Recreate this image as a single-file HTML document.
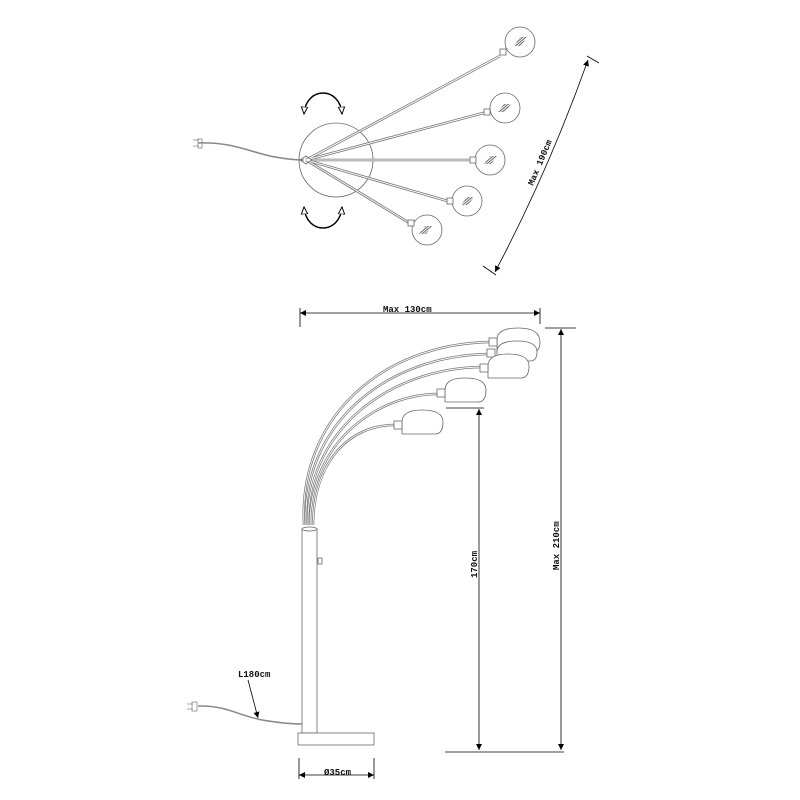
<!DOCTYPE html>
<html><head><meta charset="utf-8"><style>
html,body{margin:0;padding:0;background:#fff;width:800px;height:800px;overflow:hidden}
text{font-family:"Liberation Mono",monospace;font-size:9px;font-weight:bold;fill:#111}
</style></head><body>
<svg width="800" height="800" viewBox="0 0 800 800" xmlns="http://www.w3.org/2000/svg">
<defs>
<marker id="ar" viewBox="0 0 10 10" refX="10" refY="5" markerWidth="10" markerHeight="6" orient="auto-start-reverse" markerUnits="userSpaceOnUse"><path d="M0,0L10,5L0,10z" fill="#000"/></marker>
<marker id="oa" viewBox="0 0 10 10" refX="9" refY="5" markerWidth="8" markerHeight="8" orient="auto-start-reverse" markerUnits="userSpaceOnUse"><path d="M0,1L9,5L0,9z" fill="#fff" stroke="#000" stroke-width="1.2"/></marker>
<pattern id="hat" width="2" height="2" patternUnits="userSpaceOnUse" patternTransform="rotate(-40)"><rect width="2" height="1" fill="#666"/></pattern>
</defs>
<g fill="none" stroke="#666" stroke-width="0.8">
<circle cx="336" cy="160" r="37"/>
<path d="M198,143 C230,142 245,150 270,156 C285,159 295,160 304,160" stroke="#888" stroke-width="1.5"/>
<path d="M193,140h6M193,146h6" stroke="#888"/>
<rect x="198" y="139" width="4" height="9" stroke="#888"/>
<g stroke="#777" stroke-width="2.6"><path d="M306,160L500,56"/><path d="M306,160L487,112"/><path d="M306,160L474,160"/><path d="M306,160L451,202"/><path d="M306,160L411,224"/></g>
<g stroke="#fff" stroke-width="1"><path d="M306,160L500,56"/><path d="M306,160L487,112"/><path d="M306,160L474,160"/><path d="M306,160L451,202"/><path d="M306,160L411,224"/></g>
<path d="M300,160l6,-4l6,4l-6,4z"/>
<g fill="#fff">
<circle cx="520" cy="42" r="15"/><rect x="500" y="49" width="6" height="6"/>
<circle cx="505" cy="108" r="15"/><rect x="484" y="109" width="6" height="6"/>
<circle cx="490" cy="160" r="15"/><rect x="470" y="157" width="6" height="6"/>
<circle cx="467" cy="201" r="15"/><rect x="447" y="198" width="6" height="6"/>
<circle cx="427" cy="230" r="15"/><rect x="408" y="220" width="6" height="6"/>
</g>
<g fill="url(#hat)" stroke="none">
<path d="M514,46l6,-9l7,0l-6,9z"/><path d="M498,112l6,-8l7,0l-6,8z"/><path d="M484,164l6,-8l7,0l-6,8z"/><path d="M461,205l6,-8l7,0l-6,8z"/><path d="M419,234l6,-8l7,0l-6,8z"/>
</g>
<path d="M304,114 C306,86 340,86 342,114" stroke="#000" stroke-width="1.5" marker-start="url(#oa)" marker-end="url(#oa)"/>
<path d="M304,207 C306,235 340,235 342,207" stroke="#000" stroke-width="1.5" marker-start="url(#oa)" marker-end="url(#oa)"/>
<path d="M495,272 Q548,172 588,60" stroke="#000" stroke-width="0.8" marker-start="url(#ar)" marker-end="url(#ar)"/>
<path d="M483,266l13,9M587,56l12,7" stroke="#000"/>
</g>
<text transform="translate(533,186) rotate(-67)">Max 190cm</text>

<g fill="none" stroke="#000" stroke-width="0.8">
<path d="M300,313H540" marker-start="url(#ar)" marker-end="url(#ar)"/>
<path d="M300,308V327M540,308V324"/>
<path d="M561,329V750" marker-start="url(#ar)" marker-end="url(#ar)"/>
<path d="M545,328H576"/>
<path d="M479,409V750" marker-start="url(#ar)" marker-end="url(#ar)"/>
<path d="M446,408H484"/>
<path d="M445,752H564"/>
<path d="M299,775H374" marker-start="url(#ar)" marker-end="url(#ar)"/>
<path d="M299,758V779M374,758V779"/>
<path d="M248,680L258,718" marker-end="url(#ar)"/>
</g>
<text x="383" y="312">Max 130cm</text>
<text transform="translate(477,578) rotate(-90)">170cm</text>
<text transform="translate(559,570) rotate(-90)">Max 210cm</text>
<text x="238" y="677">L180cm</text>
<text x="324" y="775">Ø35cm</text>
<g fill="none" stroke="#666" stroke-width="0.8">
<g stroke="#777" stroke-width="2.4">
<path d="M304,525 C298,420 380,344 490,342"/>
<path d="M306,525 C302,425 385,356 488,354"/>
<path d="M308,525 C306,430 390,368 482,367"/>
<path d="M310,525 C310,440 380,394 438,394"/>
<path d="M313,525 C314,460 350,425 395,425"/>
</g>
<g stroke="#fff" stroke-width="0.9">
<path d="M304,525 C298,420 380,344 490,342"/>
<path d="M306,525 C302,425 385,356 488,354"/>
<path d="M308,525 C306,430 390,368 482,367"/>
<path d="M310,525 C310,440 380,394 438,394"/>
<path d="M313,525 C314,460 350,425 395,425"/>
</g>
<g fill="#fff">
<path d="M497,352 V340 Q497,328 518,328 Q540,328 540,342 Q540,352 532,352Z"/><rect x="489" y="338" width="8" height="8"/>
<path d="M497,361 V352 Q497,341 517,341 Q537,341 537,352 Q537,361 530,361Z"/><rect x="487" y="349" width="8" height="8"/>
<path d="M488,378 V366 Q488,354 508,354 Q529,354 529,366 Q529,378 521,378Z"/><rect x="480" y="364" width="8" height="8"/>
<path d="M445,402 V390 Q445,378 465,378 Q486,378 486,390 Q486,402 478,402Z"/><rect x="437" y="389" width="8" height="8"/>
<path d="M402,434 V422 Q402,410 422,410 Q443,410 443,422 Q443,434 435,434Z"/><rect x="394" y="421" width="8" height="8"/>
</g>
<rect x="302" y="529" width="15" height="204" fill="#fff"/>
<ellipse cx="309.5" cy="529" rx="7.5" ry="2" fill="#fff"/>
<rect x="318" y="558" width="4" height="6"/>
<rect x="298" y="733" width="76" height="12" fill="#fff"/>
<path d="M198,706 C225,705 240,716 262,720 C280,723 292,724 302,724" stroke="#888" stroke-width="1.5"/>
<path d="M187,704h6M187,709h6" stroke="#888"/>
<rect x="192" y="702" width="5" height="9" stroke="#888"/>
</g>
</svg>
</body></html>
